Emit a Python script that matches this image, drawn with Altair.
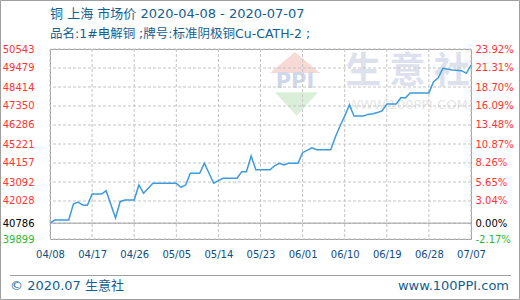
import json
import altair as alt
import pandas as pd

# ---- data ----
dates = ["2020-04-08", "2020-04-09", "2020-04-12", "2020-04-13", "2020-04-14", "2020-04-15",
         "2020-04-16", "2020-04-17", "2020-04-19", "2020-04-20", "2020-04-22", "2020-04-23",
         "2020-04-24", "2020-04-26", "2020-04-27", "2020-04-28", "2020-04-30", "2020-05-05",
         "2020-05-06", "2020-05-07", "2020-05-08", "2020-05-10", "2020-05-11", "2020-05-13",
         "2020-05-14", "2020-05-15", "2020-05-18", "2020-05-19", "2020-05-20", "2020-05-21",
         "2020-05-22", "2020-05-25", "2020-05-26", "2020-05-27", "2020-05-28", "2020-05-29",
         "2020-05-31", "2020-06-01", "2020-06-03", "2020-06-04", "2020-06-07", "2020-06-08",
         "2020-06-09", "2020-06-10", "2020-06-11", "2020-06-12", "2020-06-14", "2020-06-15",
         "2020-06-16", "2020-06-17", "2020-06-18", "2020-06-19", "2020-06-21", "2020-06-22",
         "2020-06-23", "2020-06-24", "2020-06-28", "2020-06-29", "2020-06-30", "2020-07-01",
         "2020-07-03", "2020-07-05", "2020-07-06", "2020-07-07"]
prices = [40786, 40960, 40960, 41860, 41970, 41800,
          41790, 42420, 42420, 42600, 41075, 41990,
          42085, 42085, 42925, 42460, 43020, 43020,
          42795, 42925, 43580, 43580, 44140, 43020,
          43165, 43300, 43300, 43670, 43670, 44550,
          43780, 43780, 43990, 44140, 44045, 44140,
          44140, 44735, 45010, 44900, 44900, 45610,
          46230, 46790, 47406, 46790, 46790, 46880,
          46920, 46980, 47080, 47460, 47460, 47805,
          47805, 48085, 48085, 48710, 48935, 49460,
          49370, 49330, 49180, 49646]
assert len(dates) == len(prices)

y_ticks = [50543, 49479, 48414, 47350, 46286, 45221, 44157, 43092, 42028, 40786, 39899]
pct_labels = ["23.92%", "21.31%", "18.70%", "16.09%", "13.48%", "10.87%", "8.26%",
              "5.65%", "3.04%", "0.00%", "-2.17%"]
x_ticks = ["2020-04-08", "2020-04-17", "2020-04-26", "2020-05-05", "2020-05-14", "2020-05-23",
           "2020-06-01", "2020-06-10", "2020-06-19", "2020-06-28", "2020-07-07"]
base_price = 40786
title_line1 = "铜 上海 市场价 2020-04-08 - 2020-07-07"
title_line2 = "品名:1#电解铜 ;牌号:标准阴极铜Cu-CATH-2 ;"
footer_left = "© 2020.07 生意社"
footer_right = "www.100PPI.com"
wm_text = "生 意 社"
wm_url = "WWW.100PPI.COM"
wm_logo = "PPI"

# ---- styling ----
W, H = 421, 190
BLUE_TEXT = "#155e90"
RED = "#ff3333"
GREEN = "#2db82d"
FRAME = "#a0a0a0"
GRID = "#c4c4c4"
FONT = "DejaVu Sans"
CJK = "DejaVu Sans, Noto Sans CJK SC"


def dt(s):
    y, m, d = map(int, s.split("-"))
    return alt.DateTime(year=y, month=m, date=d, utc=True)


df = pd.DataFrame({"date": dates, "price": prices})

label_color = {
    "condition": [
        {"test": f"datum.value > {base_price}", "value": RED},
        {"test": f"datum.value < {base_price}", "value": GREEN},
    ],
    "value": "#000000",
}

x_scale = alt.Scale(type="utc", domain=[dt(x_ticks[0]), dt(x_ticks[-1])], nice=False)
y_scale = alt.Scale(domain=[y_ticks[-1], y_ticks[0]], nice=False, zero=False)

x_axis = alt.Axis(values=[dt(s) for s in x_ticks], format="%m/%d", title=None,
                  grid=False, domain=False, ticks=False,
                  labelPadding=10, labelFontSize=10,
                  labelFont=FONT, labelColor="#0f4e80", labelFlush=False,
                  labelOverlap=False)

# dashed grid lines drawn from the tick arrays
ygrid = alt.Chart(pd.DataFrame({"g": y_ticks})).mark_rule(
    color=GRID, strokeWidth=1, strokeDash=[3, 2]).encode(
    y=alt.Y("g:Q", scale=y_scale, axis=None))
xgrid = alt.Chart(pd.DataFrame({"date": x_ticks})).mark_rule(
    color=GRID, strokeWidth=1, strokeDash=[3, 2]).encode(
    x=alt.X("date:T", scale=x_scale, axis=x_axis))

line = alt.Chart(df).mark_line(color="#3d9bdc", strokeWidth=1.5).encode(
    x=alt.X("date:T", scale=x_scale, axis=x_axis),
    y=alt.Y("price:Q", scale=y_scale,
            axis=alt.Axis(values=y_ticks, format="d", title=None, grid=False,
                          domain=False, ticks=False,
                          labelPadding=16, labelFontSize=10, labelFont=FONT,
                          labelColor=label_color, labelOverlap=False)),
)

pct_expr = f"{json.dumps(pct_labels)}[indexof({json.dumps(y_ticks)}, datum.value)]"

base_rule = alt.Chart(pd.DataFrame({"b": [base_price]})).mark_rule(
    color=FRAME, strokeWidth=1).encode(
    y=alt.Y("b:Q", scale=y_scale,
            axis=alt.Axis(orient="right", values=y_ticks, labelExpr=pct_expr, title=None,
                          grid=False, domain=False, ticks=False,
                          labelPadding=4, labelFontSize=10, labelFont=FONT,
                          labelColor=label_color, labelOverlap=False)),
)


def text_layer(txt, x, y, **kw):
    return alt.Chart(pd.DataFrame({"t": [txt]})).mark_text(**kw).encode(
        text="t:N", x=alt.value(x), y=alt.value(y))


def frame_rule(x, x2, y, y2):
    return alt.Chart(pd.DataFrame({"k": [1]})).mark_rule(color=FRAME, strokeWidth=1).encode(
        x=alt.value(x), x2=alt.value(x2), y=alt.value(y), y2=alt.value(y2))


one = pd.DataFrame({"k": [1]})

# outer border of the whole picture (also sets the overall 520x300 extent) and separator
border_top = frame_rule(-49.5, 469.5, -48.5, -48.5)
border_bottom = frame_rule(-49.5, 469.5, 250.5, 250.5)
border_left = frame_rule(-49.5, -49.5, -48.5, 250.5)
border_right = frame_rule(469.5, 469.5, -48.5, 250.5)
separator = frame_rule(-40, 461, 226.5, 226.5)

tri_up = alt.Chart(one).mark_point(
    shape="M-1,0.42L0,-0.42L1,0.42Z", filled=True, color="#f7d9d6", opacity=1,
    size=2500).encode(x=alt.value(245), y=alt.value(13.5))
tri_down = alt.Chart(one).mark_point(
    shape="M-1,-0.55L1,-0.55L0,0.55Z", filled=True, color="#d9efd9", opacity=1,
    size=1849).encode(x=alt.value(246.5), y=alt.value(55))
logo_txt = text_layer(wm_logo, 245, 32.5, fontSize=21, fontWeight="bold", font=FONT,
                      color="#cfd8ea", align="center", baseline="middle")
wm_big = text_layer(wm_text, 357.5, 22.5, fontSize=36, fontWeight="bold",
                    font="Noto Sans CJK SC", color="#dde1ee", align="center",
                    baseline="middle")
wm_small = text_layer(wm_url, 357.5, 56, fontSize=13, font=FONT, color="#e6e6e6",
                      align="center", baseline="middle")

t1 = text_layer(title_line1, 0, -35, fontSize=13, font=CJK, color=BLUE_TEXT,
                align="left", baseline="middle")
t2 = text_layer(title_line2, 0, -15, fontSize=12.5, font=CJK, color=BLUE_TEXT,
                align="left", baseline="middle")
f1 = text_layer(footer_left, -40, 237, fontSize=13, font=CJK, color=BLUE_TEXT,
                align="left", baseline="middle")
f2 = text_layer(footer_right, 459, 237, fontSize=13, font=FONT, color=BLUE_TEXT,
                align="right", baseline="middle")

chart = alt.layer(
    tri_up, tri_down, logo_txt, wm_big, wm_small, xgrid, ygrid,
    line, base_rule, separator, border_top, border_bottom, border_left, border_right,
    t1, t2, f1, f2,
).resolve_scale(y="independent").properties(
    width=W, height=H,
    padding=0,
).configure_view(stroke=FRAME, strokeWidth=1)

chart.save("out.html", embed_options={"renderer": "svg", "actions": False})
